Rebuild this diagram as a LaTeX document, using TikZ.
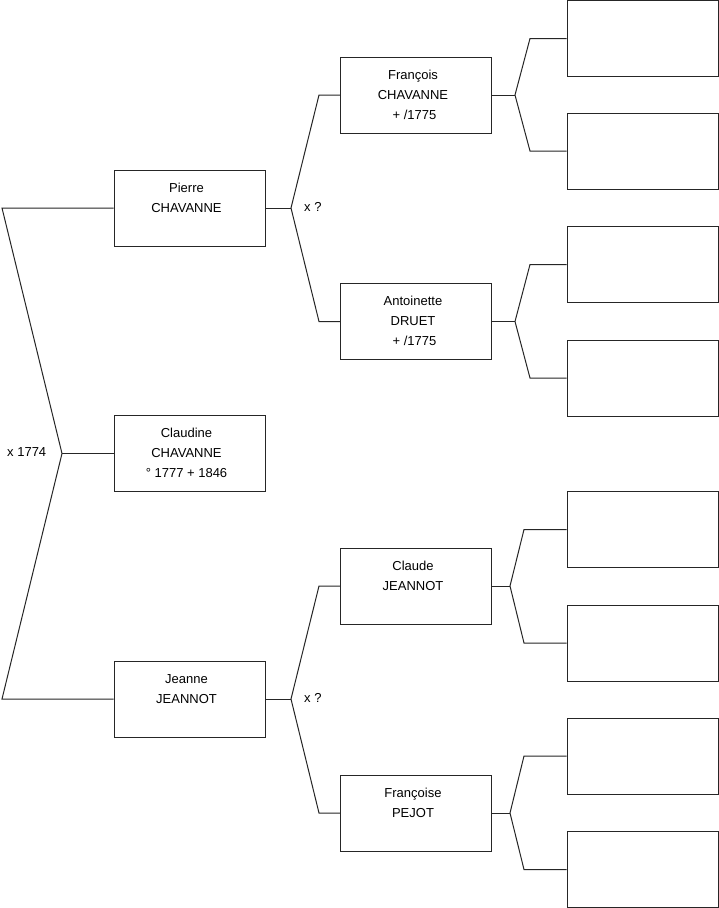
\documentclass[tikz,border=0pt]{standalone}
\usepackage{fontspec}
\setmainfont{Liberation Sans}
\newcommand{\ptxt}[1]{\raisebox{1.5pt}{\begin{tabular}{@{}c@{\hspace{6pt}}}#1\end{tabular}}}
\begin{document}
\begin{tikzpicture}[x=1pt,y=-1pt,
  person/.style={draw=black!85, line width=1pt, minimum width=151pt, minimum height=76pt, inner sep=0pt, font=\fontsize{13}{20}\selectfont},
  conn/.style={draw=black!85, line width=1pt},
  lbl/.style={font=\fontsize{13}{15}\selectfont, inner sep=0pt}]
\useasboundingbox (0,0) rectangle (719,908);
\fill[white] (0,0) rectangle (719,908);
% generation 1
\node[person] (pierre) at (189.5,208) {\ptxt{Pierre\\CHAVANNE\\\phantom{X}}};
\node[person] (claudine) at (189.5,453.5) {\ptxt{Claudine\\CHAVANNE\\° 1777 + 1846}};
\node[person] (jeanne) at (189.5,699) {\ptxt{Jeanne\\JEANNOT\\\phantom{X}}};
% generation 2
\node[person] (francois) at (416,95) {\ptxt{François\\CHAVANNE\\\hspace{3pt}+ /1775}};
\node[person] (antoinette) at (416,321.5) {\ptxt{Antoinette\\DRUET\\\hspace{3pt}+ /1775}};
\node[person] (claude) at (416,586) {\ptxt{Claude\\JEANNOT\\\phantom{X}}};
\node[person] (francoise) at (416,813) {\ptxt{Françoise\\PEJOT\\\phantom{X}}};
% generation 3
\node[person] (g1) at (642.5,38.5) {};
\node[person] (g2) at (642.5,151) {};
\node[person] (g3) at (642.5,264.5) {};
\node[person] (g4) at (642.5,378) {};
\node[person] (g5) at (642.5,529.5) {};
\node[person] (g6) at (642.5,643) {};
\node[person] (g7) at (642.5,756) {};
\node[person] (g8) at (642.5,869.5) {};
% fork coordinates
\coordinate (Ltop) at (2,208);
\coordinate (Lv) at (62,453.5);
\coordinate (Lbot) at (2,699);
\coordinate (Pv) at (291,208);
\coordinate (Pa) at (319,95);
\coordinate (Pb) at (319,321.5);
\coordinate (Jv) at (291,699);
\coordinate (Ja) at (319,586);
\coordinate (Jb) at (319,813);
\coordinate (Fv) at (515,95);
\coordinate (Fa) at (530,38.5);
\coordinate (Fb) at (530,151);
\coordinate (Av) at (515,321.5);
\coordinate (Aa) at (530,264.5);
\coordinate (Ab) at (530,378);
\coordinate (Cv) at (510,586);
\coordinate (Ca) at (524,529.5);
\coordinate (Cb) at (524,643);
\coordinate (Sv) at (510,813);
\coordinate (Sa) at (524,756);
\coordinate (Sb) at (524,869.5);
% connectors
\draw[conn] (pierre.west) -- (Ltop) -- (Lv) -- (Lbot) -- (jeanne.west);
\draw[conn] (Lv) -- (claudine.west);
\draw[conn] (pierre.east) -- (Pv);
\draw[conn] (francois.west) -- (Pa) -- (Pv) -- (Pb) -- (antoinette.west);
\draw[conn] (jeanne.east) -- (Jv);
\draw[conn] (claude.west) -- (Ja) -- (Jv) -- (Jb) -- (francoise.west);
\draw[conn] (francois.east) -- (Fv);
\draw[conn] (g1.west) -- (Fa) -- (Fv) -- (Fb) -- (g2.west);
\draw[conn] (antoinette.east) -- (Av);
\draw[conn] (g3.west) -- (Aa) -- (Av) -- (Ab) -- (g4.west);
\draw[conn] (claude.east) -- (Cv);
\draw[conn] (g5.west) -- (Ca) -- (Cv) -- (Cb) -- (g6.west);
\draw[conn] (francoise.east) -- (Sv);
\draw[conn] (g7.west) -- (Sa) -- (Sv) -- (Sb) -- (g8.west);
% labels
\node[lbl, anchor=west] (m1) at (7,452) {x 1774};
\node[lbl, anchor=west] (m2) at (304,207) {x ?};
\node[lbl, anchor=west] (m3) at (304,698) {x ?};
\end{tikzpicture}
\end{document}
